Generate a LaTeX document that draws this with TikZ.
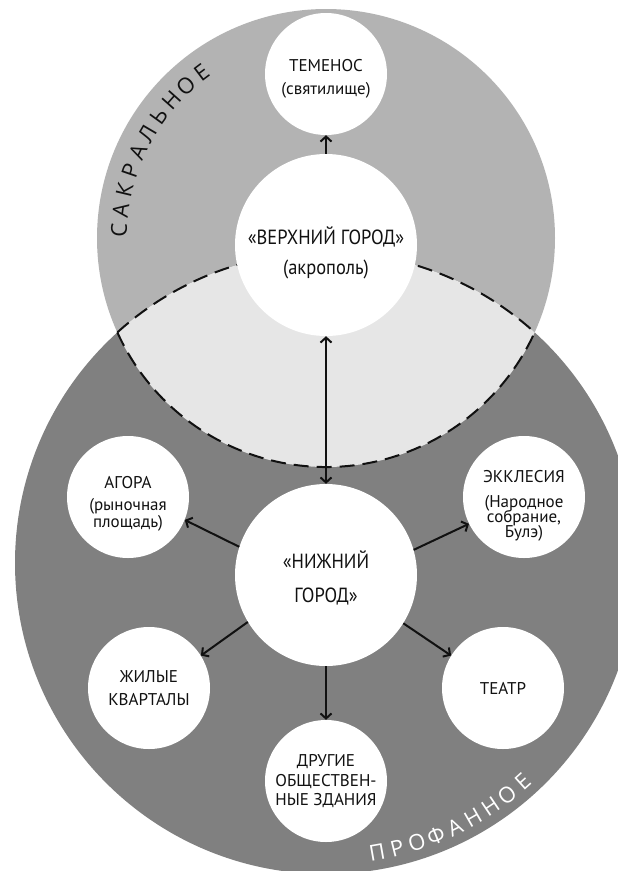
\documentclass[tikz,border=0pt]{standalone}
\usepackage{fontspec}
\setmainfont{PT Sans}
\newfontfamily\narrowfont[FakeStretch=0.9]{PT Sans}
\newfontfamily\zonefont{Open Sans}
\usetikzlibrary{arrows.meta}

\definecolor{sacred}{HTML}{B3B3B3}
\definecolor{profane}{HTML}{808080}
\definecolor{overlap}{HTML}{E6E6E6}
\definecolor{ink}{HTML}{111111}

% invisible strut that raises the top of a first line
\newcommand{\toprule}[1]{\rule{0pt}{#1}}

\begin{document}
\begin{tikzpicture}[x=1pt,y=1pt,
  >={Straight Barb[length=5pt,width=11pt]},
  place/.style={circle, fill=white, inner sep=0pt, align=center, text=ink},
  small/.style={place, minimum size=122pt, font=\fontsize{17}{17}\selectfont},
  big/.style={place, minimum size=182pt, font=\narrowfont\fontsize{20.5}{30}\selectfont},
  link/.style={line width=2pt, draw=ink, ->},
  zone/.style={line width=2pt, draw=ink, dash pattern=on 15pt off 8pt},
  zonename/.style={inner sep=0pt, anchor=center, font=\zonefont\fontsize{22}{22}\selectfont},
]
\useasboundingbox (0,0) rectangle (618,-871);
\clip (0,0) rectangle (618,-871);
\fill[white] (0,0) rectangle (618,-871);

% the two zones and their overlap
\coordinate (S) at (326,-238);
\coordinate (P) at (326,-563);
\fill[sacred] (S) circle[radius=229];
\fill[profane] (P) circle[radius=311];
\begin{scope}
  \clip (S) circle[radius=229];
  \fill[overlap] (P) circle[radius=311];
\end{scope}
\draw[zone] ([shift={(204.35:229)}]S) arc[start angle=204.35, end angle=335.65, radius=229];
\draw[zone] ([shift={(132.14:311)}]P) arc[start angle=132.14, end angle=47.86, radius=311];

% zone names set letter by letter along the rims
\foreach \ch [count=\i from 0] in {С,А,К,Р,А,Л,Ь,Н,О,Е}
  \node[zonename, text=ink, rotate={88-\i*5.67}] (sac\i) at ([shift={({178-\i*5.67}:207)}]S) {\ch};
\foreach \ch [count=\i from 0] in {П,Р,О,Ф,А,Н,Н,О,Е}
  \node[zonename, text=white, rotate={10+\i*4}] (prof\i) at ([shift={({-80+\i*4}:294)}]P) {\ch};

% places
\node[small] (tem) at (326,-74) {\toprule{21.7pt}ТЕМЕНОС\\[6pt](святилище)};
\node[big] (acro) at (326,-245) {\toprule{32.5pt}«ВЕРХНИЙ ГОРОД»\\(акрополь)};
\node[big, font=\narrowfont\fontsize{20.5}{34}\selectfont] (low) at (326,-575) {\toprule{23pt}«НИЖНИЙ\\ГОРОД»};
\node[small] (agora) at (128,-497) {\toprule{25.7pt}АГОРА\\[5pt](рыночная\\площадь)};
\node[small] (eccl) at (524,-497) {\toprule{29.7pt}ЭККЛЕСИЯ\\[8pt](Народное\\[-2pt]собрание,\\[-2pt]Булэ)};
\node[small] (homes) at (149,-688) {ЖИЛЫЕ\\[6pt]КВАРТАЛЫ};
\node[small] (theatre) at (503,-688) {ТЕАТР};
\node[small] (other) at (326,-781) {ДРУГИЕ\\[3pt]ОБЩЕСТВЕН-\\[2pt]НЫЕ ЗДАНИЯ};

% connections
\draw[link] (acro) -- (tem);
\draw[link, <->] (acro) -- (low);
\draw[link] (low.162) -- (agora.-22);
\draw[link] (low.16) -- (eccl.206);
\draw[link] (low.211) -- (homes.32);
\draw[link] (low.-32) -- (theatre.148);
\draw[link] (low.south) -- (other.north);
\end{tikzpicture}
\end{document}
